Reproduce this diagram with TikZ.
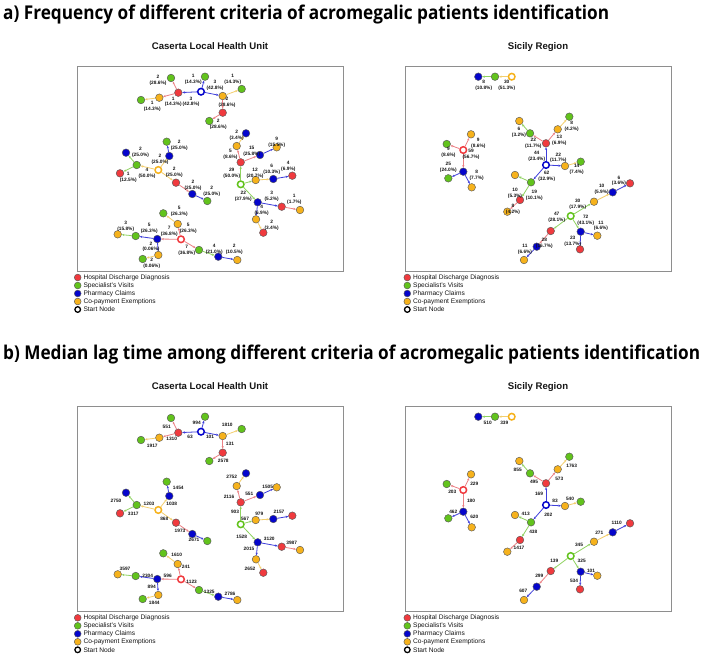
\documentclass[tikz,border=0pt]{standalone}
\usepackage{fontspec}
\setmainfont{Liberation Sans}
\newfontfamily\titlefont{Open Sans}
\usepackage{graphicx}
\usetikzlibrary{arrows.meta}

\definecolor{cR}{HTML}{F03A3E}
\definecolor{cG}{HTML}{62C31C}
\definecolor{cB}{HTML}{0505CC}
\definecolor{cO}{HTML}{F6B21C}
\definecolor{lR}{HTML}{EC8084}
\definecolor{lG}{HTML}{8FD260}
\definecolor{lB}{HTML}{3E3EDA}
\definecolor{lO}{HTML}{F3CE6C}
\definecolor{boxgray}{HTML}{8E8E8E}
\definecolor{ink}{HTML}{151515}

\tikzset{
  nd/.style={circle, minimum size=7.6pt, inner sep=0pt, draw=black!65, line width=0.45pt},
  nR/.style={nd, fill=cR}, nG/.style={nd, fill=cG},
  nB/.style={nd, fill=cB}, nO/.style={nd, fill=cO},
  st/.style={circle, minimum size=6.6pt, inner sep=0pt, fill=white, line width=1.5pt},
  sR/.style={st, draw=cR}, sG/.style={st, draw=cG},
  sB/.style={st, draw=cB}, sO/.style={st, draw=cO},
  ed/.style={line width=0.8pt, -{Stealth[length=2.6pt,width=2.2pt]}},
  eR/.style={ed, draw=lR}, eG/.style={ed, draw=lG},
  eB/.style={ed, draw=lB}, eO/.style={ed, draw=lO},
  lab/.style={font=\fontsize{4.8}{5.9}\selectfont\bfseries, align=center, inner sep=0pt, text=ink},
  leg/.style={font=\fontsize{6.6}{7}\selectfont, anchor=west, inner sep=0pt, text=ink},
  sub/.style={font=\fontsize{9.6}{10}\selectfont\bfseries, anchor=base, inner sep=0pt, text=ink},
  panel/.style={draw=boxgray, line width=0.9pt},
}

\newcounter{lbc}
\newcommand\lb[2]{\stepcounter{lbc}\node[lab] (lab\thelbc) at (#1) {#2};}

\newcommand\casertagraph{%
  % cluster 1
  \node[sB] (c1s) at (201,91.7) {};
  \node[nR] (c1r) at (178.3,92.7) {};
  \node[nG] (c1g1) at (171,78) {};
  \node[nO] (c1o1) at (159.3,97.7) {};
  \node[nG] (c1g2) at (141,100) {};
  \node[nG] (c1g3) at (205,76.7) {};
  \node[nO] (c1o2) at (222.7,96) {};
  \node[nG] (c1g4) at (241.7,89) {};
  \node[nR] (c1r2) at (222.7,112.7) {};
  \node[nG] (c1g5) at (209.3,121) {};
  \draw[eB] (c1s) -- (c1r);
  \draw[eR] (c1r) -- (c1g1);
  \draw[eR] (c1r) -- (c1o1);
  \draw[eO] (c1o1) -- (c1g2);
  \draw[eB] (c1s) -- (c1g3);
  \draw[eB] (c1s) -- (c1o2);
  \draw[eO] (c1o2) -- (c1g4);
  \draw[eR] (c1o2) -- (c1r2);
  \draw[eR] (c1r2) -- (c1g5);
  % cluster 2
  \node[sO] (c2s) at (158.3,170) {};
  \node[nG] (c2g1) at (136.7,165) {};
  \node[nR] (c2r1) at (120,173.3) {};
  \node[nB] (c2b1) at (126,152.7) {};
  \node[nB] (c2b2) at (169.3,156) {};
  \node[nG] (c2g2) at (166.7,141.7) {};
  \node[nR] (c2r2) at (176,182.7) {};
  \node[nB] (c2b3) at (192.3,194) {};
  \node[nG] (c2g3) at (207.3,201) {};
  \draw[eO] (c2s) -- (c2g1);
  \draw[eG] (c2g1) -- (c2r1);
  \draw[eG] (c2g1) -- (c2b1);
  \draw[eO] (c2s) -- (c2b2);
  \draw[eB] (c2b2) -- (c2g2);
  \draw[eO] (c2s) -- (c2r2);
  \draw[eR] (c2r2) -- (c2b3);
  \draw[eB] (c2b3) -- (c2g3);
  % cluster 3
  \node[sG] (c3s) at (240.7,184.3) {};
  \node[nR] (c3r1) at (240.7,162.3) {};
  \node[nO] (c3o1) at (236.7,146) {};
  \node[nB] (c3b1) at (246,133.3) {};
  \node[nB] (c3b2) at (260,155) {};
  \node[nO] (c3o2) at (276.7,147.3) {};
  \node[nO] (c3o3) at (255.7,180) {};
  \node[nB] (c3b3) at (273.3,179) {};
  \node[nR] (c3r2) at (292.3,175.7) {};
  \node[nB] (c3b4) at (257.7,202.3) {};
  \node[nR] (c3r3) at (281.7,206.7) {};
  \node[nO] (c3o4) at (300,210) {};
  \node[nO] (c3o5) at (256,219.3) {};
  \node[nR] (c3r4) at (263.3,232.7) {};
  \draw[eG] (c3s) -- (c3r1);
  \draw[eR] (c3r1) -- (c3o1);
  \draw[eO] (c3o1) -- (c3b1);
  \draw[eR] (c3r1) -- (c3b2);
  \draw[eB] (c3b2) -- (c3o2);
  \draw[eG] (c3s) -- (c3o3);
  \draw[eO] (c3o3) -- (c3b3);
  \draw[eB] (c3b3) -- (c3r2);
  \draw[eG] (c3s) -- (c3b4);
  \draw[eB] (c3b4) -- (c3r3);
  \draw[eR] (c3r3) -- (c3o4);
  \draw[eB] (c3b4) -- (c3o5);
  \draw[eO] (c3o5) -- (c3r4);
  % cluster 4
  \node[sR] (c4s) at (181,239.3) {};
  \node[nO] (c4o1) at (177.7,224) {};
  \node[nG] (c4g1) at (163.3,213.3) {};
  \node[nB] (c4b1) at (157.3,239) {};
  \node[nG] (c4g2) at (135.7,236) {};
  \node[nO] (c4o2) at (117.7,234.3) {};
  \node[nO] (c4o3) at (158.3,255) {};
  \node[nG] (c4g3) at (142.7,259) {};
  \node[nG] (c4g4) at (199,250) {};
  \node[nB] (c4b2) at (218.3,256.7) {};
  \node[nO] (c4o4) at (237.3,260) {};
  \draw[eR] (c4s) -- (c4o1);
  \draw[eO] (c4o1) -- (c4g1);
  \draw[eR] (c4s) -- (c4b1);
  \draw[eB] (c4b1) -- (c4g2);
  \draw[eG] (c4g2) -- (c4o2);
  \draw[eB] (c4b1) -- (c4o3);
  \draw[eO] (c4o3) -- (c4g3);
  \draw[eR] (c4s) -- (c4g4);
  \draw[eG] (c4g4) -- (c4b2);
  \draw[eB] (c4b2) -- (c4o4);
}

\newcommand\sicilygraph{%
  % top pair
  \node[sO] (s1s) at (511.7,76.7) {};
  \node[nG] (s1g) at (495,76.7) {};
  \node[nB] (s1b) at (478.3,76.7) {};
  \draw[eO] (s1s) -- (s1g);
  \draw[eG] (s1g) -- (s1b);
  % left cluster
  \node[sR] (s2s) at (463.3,150) {};
  \node[nO] (s2o) at (471,134.3) {};
  \node[nG] (s2g1) at (446.7,144) {};
  \node[nB] (s2b) at (463.3,171.7) {};
  \node[nG] (s2g2) at (448.3,178.3) {};
  \node[nO] (s2o2) at (471.7,187.3) {};
  \draw[eR] (s2s) -- (s2o);
  \draw[eR] (s2s) -- (s2g1);
  \draw[eR] (s2s) -- (s2b);
  \draw[eB] (s2b) -- (s2g2);
  \draw[eB] (s2b) -- (s2o2);
  % middle cluster
  \node[sB] (s3s) at (546,165) {};
  \node[nR] (s3r) at (546,143.3) {};
  \node[nG] (s3g1) at (530,133.3) {};
  \node[nO] (s3o1) at (519.3,121) {};
  \node[nO] (s3o2) at (557.7,129.3) {};
  \node[nG] (s3g2) at (569.3,116.7) {};
  \node[nO] (s3o3) at (565,166) {};
  \node[nG] (s3g3) at (580.7,161.7) {};
  \node[nG] (s3g4) at (531,182.3) {};
  \node[nO] (s3o4) at (515,175) {};
  \node[nR] (s3r2) at (520,200) {};
  \node[nO] (s3o5) at (507.3,211.7) {};
  \draw[eB] (s3s) -- (s3r);
  \draw[eR] (s3r) -- (s3g1);
  \draw[eG] (s3g1) -- (s3o1);
  \draw[eR] (s3r) -- (s3o2);
  \draw[eO] (s3o2) -- (s3g2);
  \draw[eB] (s3s) -- (s3o3);
  \draw[eO] (s3o3) -- (s3g3);
  \draw[eB] (s3s) -- (s3g4);
  \draw[eG] (s3g4) -- (s3o4);
  \draw[eG] (s3g4) -- (s3r2);
  \draw[eR] (s3r2) -- (s3o5);
  % bottom cluster
  \node[sG] (s4s) at (570.7,216) {};
  \node[nO] (s4o1) at (594,201.7) {};
  \node[nB] (s4b1) at (612.7,192.3) {};
  \node[nR] (s4r1) at (630,183.3) {};
  \node[nR] (s4r2) at (550.7,231) {};
  \node[nB] (s4b2) at (536.7,246.7) {};
  \node[nO] (s4o2) at (524,260) {};
  \node[nB] (s4b3) at (580.7,231.7) {};
  \node[nO] (s4o3) at (597.3,235.7) {};
  \node[nR] (s4r3) at (580,249.3) {};
  \draw[eG] (s4s) -- (s4o1);
  \draw[eO] (s4o1) -- (s4b1);
  \draw[eB] (s4b1) -- (s4r1);
  \draw[eG] (s4s) -- (s4r2);
  \draw[eR] (s4r2) -- (s4b2);
  \draw[eB] (s4b2) -- (s4o2);
  \draw[eG] (s4s) -- (s4b3);
  \draw[eB] (s4b3) -- (s4o3);
  \draw[eB] (s4b3) -- (s4r3);
}

\newcommand\legendat[3]{% prefix, x, y
  \node[nR, minimum size=6.8pt] (#1c1) at (#2,#3) {};
  \node[leg] (#1t1) at (#2+5.6,#3) {Hospital Discharge Diagnosis};
  \node[nG, minimum size=6.8pt] (#1c2) at (#2,#3+8) {};
  \node[leg] (#1t2) at (#2+5.6,#3+8) {Specialist's Visits};
  \node[nB, minimum size=6.8pt] (#1c3) at (#2,#3+16) {};
  \node[leg] (#1t3) at (#2+5.6,#3+16) {Pharmacy Claims};
  \node[nO, minimum size=6.8pt] (#1c4) at (#2,#3+24) {};
  \node[leg] (#1t4) at (#2+5.6,#3+24) {Co-payment Exemptions};
  \node[st, draw=black, minimum size=5.6pt, line width=1.3pt] (#1c5) at (#2,#3+32) {};
  \node[leg] (#1t5) at (#2+5.6,#3+32) {Start Node};
}

\newsavebox\tabox
\newsavebox\tbbox

\begin{document}
\sbox\tabox{\titlefont\bfseries\fontsize{19}{19}\selectfont a) Frequency of different criteria of acromegalic patients identification}%
\sbox\tbbox{\titlefont\bfseries\fontsize{19}{19}\selectfont b) Median lag time among different criteria of acromegalic patients identification}%
\begin{tikzpicture}[x=1pt, y=-1pt]
  \pgfmathsetmacro\tsc{697/\wd\tbbox}
  \fill[white] (0,0) rectangle (708,661);
  \useasboundingbox (0,0) rectangle (708,661);

  % titles
  \node[anchor=base west, inner sep=0pt, text=ink] (titlea) at (3,19.5) {\scalebox{\tsc}[1]{\usebox\tabox}};
  \node[anchor=base west, inner sep=0pt, text=ink] (titleb) at (3,359.5) {\scalebox{\tsc}[1]{\usebox\tbbox}};

  % subtitles
  \node[sub] (suba1) at (210,49.5) {Caserta Local Health Unit};
  \node[sub] (suba2) at (538,49.5) {Sicily Region};
  \node[sub] (subb1) at (210,389.5) {Caserta Local Health Unit};
  \node[sub] (subb2) at (538,389.5) {Sicily Region};

  % panel frames
  \draw[panel] (77,66) rectangle (343,271);
  \draw[panel] (405,66) rectangle (671,271);
  \draw[panel] (77,406) rectangle (343,611.5);
  \draw[panel] (405,406) rectangle (671,611.5);

  % graphs
  \begin{scope}[name prefix=a-]
    \casertagraph
    \sicilygraph
  \end{scope}
  \begin{scope}[shift={(0,340)}, name prefix=b-]
    \casertagraph
    \sicilygraph
  \end{scope}

  % legends
  \legendat{la1}{77.7}{277.5}
  \legendat{la2}{407.3}{277.5}
  \legendat{lb1}{77.7}{617.8}
  \legendat{lb2}{407.3}{617.8}

  % ---------- panel a labels: Caserta ----------
  \lb{158,80}{2\\(28.6\%)}
  \lb{193.3,79.2}{1\\(14.3\%)}
  \lb{232.7,79.7}{1\\(14.3\%)}
  \lb{215,85.7}{3\\(42.8\%)}
  \lb{191,101.8}{3\\(42.8\%)}
  \lb{173.3,101.8}{1\\(14.3\%)}
  \lb{152.3,106.7}{1\\(14.3\%)}
  \lb{227,102.5}{2\\(28.6\%)}
  \lb{218.3,124.5}{2\\(28.6\%)}
  \lb{140.5,152.3}{2\\(25.0\%)}
  \lb{179.3,145.7}{2\\(25.0\%)}
  \lb{160,159}{2\\(25.0\%)}
  \lb{147,173.3}{4\\(50.0\%)}
  \lb{128.3,177.3}{1\\(12.5\%)}
  \lb{174.3,172.3}{2\\(25.0\%)}
  \lb{193,185.5}{2\\(25.0\%)}
  \lb{211.7,191.3}{2\\(25.0\%)}
  \lb{236.7,135.7}{2\\(3.4\%)}
  \lb{230.5,154.5}{5\\(8.6\%)}
  \lb{251.7,151}{15\\(25.8\%)}
  \lb{276.7,142.7}{9\\(15.5\%)}
  \lb{231.7,173}{29\\(50.0\%)}
  \lb{255,173}{12\\(20.7\%)}
  \lb{271.7,169.3}{6\\(10.3\%)}
  \lb{288.3,166.3}{4\\(6.9\%)}
  \lb{243.3,196.3}{22\\(37.9\%)}
  \lb{271.7,196}{3\\(5.2\%)}
  \lb{294.3,199.7}{1\\(1.7\%)}
  \lb{261.7,210.3}{4\\(6.9\%)}
  \lb{271.7,225}{2\\(3.4\%)}
  \lb{179.3,211.3}{5\\(26.3\%)}
  \lb{188.3,228.7}{5\\(26.3\%)}
  \lb{169.3,231.7}{7\\(36.8\%)}
  \lb{149.3,228.7}{5\\(26.3\%)}
  \lb{125.7,226}{3\\(15.8\%)}
  \lb{151,246.8}{2\\(0.06\%)}
  \lb{151.7,263.3}{2\\(0.06\%)}
  \lb{186.7,250.3}{7\\(36.8\%)}
  \lb{214.3,249.5}{4\\(21.0\%)}
  \lb{234.3,249.5}{2\\(10.5\%)}

  % ---------- panel a labels: Sicily ----------
  \lb{483.7,85}{8\\(10.8\%)}
  \lb{506.7,85}{30\\(51.3\%)}
  \lb{478.3,143.3}{9\\(8.6\%)}
  \lb{448.5,152}{9\\(8.6\%)}
  \lb{471,154.5}{59\\(56.7\%)}
  \lb{448.3,167}{25\\(24.0\%)}
  \lb{476.7,175.7}{8\\(7.7\%)}
  \lb{519,132.5}{6\\(3.2\%)}
  \lb{533.3,143.3}{22\\(11.7\%)}
  \lb{571.7,126.3}{8\\(4.2\%)}
  \lb{559.3,140}{13\\(6.9\%)}
  \lb{536.7,156.3}{44\\(23.4\%)}
  \lb{558.3,157.8}{22\\(11.7\%)}
  \lb{576.7,169.7}{14\\(7.4\%)}
  \lb{546.7,176.3}{62\\(32.9\%)}
  \lb{515,193}{10\\(5.3\%)}
  \lb{534.3,195}{19\\(10.1\%)}
  \lb{513,209.7}{8\\(4.2\%)}
  \lb{619,180.8}{6\\(3.6\%)}
  \lb{601.7,189.7}{10\\(5.9\%)}
  \lb{577.7,204}{30\\(17.9\%)}
  \lb{556.7,217}{47\\(28.1\%)}
  \lb{585.7,220.3}{72\\(43.1\%)}
  \lb{601,225.8}{11\\(6.6\%)}
  \lb{544.3,243}{28\\(16.7\%)}
  \lb{572.7,241.7}{23\\(13.7\%)}
  \lb{525,249.2}{11\\(6.6\%)}

  % ---------- panel b labels: Caserta ----------
  \lb{166.7,426.7}{551}
  \lb{196.7,423.3}{994}
  \lb{227.3,425}{1810}
  \lb{190,437.3}{63}
  \lb{210,437.3}{101}
  \lb{171.7,439.3}{1310}
  \lb{152.3,446}{1917}
  \lb{230,444}{131}
  \lb{223.3,460.7}{2578}
  \lb{231.7,477.3}{2752}
  \lb{267.7,486.7}{1505}
  \lb{249.3,494}{551}
  \lb{229,496.7}{2116}
  \lb{178.3,487.7}{1454}
  \lb{116,500.7}{2750}
  \lb{149,504}{1203}
  \lb{171.7,504.3}{1038}
  \lb{133.3,514.3}{3317}
  \lb{164.3,519.3}{868}
  \lb{235,511.7}{903}
  \lb{245,519.3}{567}
  \lb{259.3,514.3}{979}
  \lb{279,511.7}{2157}
  \lb{180,530.7}{1973}
  \lb{194,540}{2671}
  \lb{241.7,537.3}{1528}
  \lb{269.3,539.3}{3120}
  \lb{291.7,543.3}{3987}
  \lb{249,549.3}{2015}
  \lb{250,569.3}{2652}
  \lb{176.7,555}{1610}
  \lb{186,567.3}{241}
  \lb{125,569.3}{3597}
  \lb{147.7,576}{2304}
  \lb{167.7,576}{596}
  \lb{191.7,581.7}{1123}
  \lb{151.7,587.3}{894}
  \lb{209.3,591.7}{1325}
  \lb{230,594}{2786}
  \lb{154.3,603.3}{1844}

  % ---------- panel b labels: Sicily ----------
  \lb{487.7,423.3}{510}
  \lb{504.3,423.3}{339}
  \lb{517.7,470}{855}
  \lb{571.7,465.7}{1763}
  \lb{534,482.3}{495}
  \lb{559.3,479}{573}
  \lb{474.3,484.3}{229}
  \lb{452.3,491.7}{203}
  \lb{539,494}{169}
  \lb{471,500.7}{180}
  \lb{555,500.7}{83}
  \lb{570,499.3}{540}
  \lb{548.3,515}{202}
  \lb{453.3,511.7}{462}
  \lb{474.3,517.3}{620}
  \lb{525.7,514}{413}
  \lb{616.7,522.7}{1110}
  \lb{533.3,532.3}{438}
  \lb{599.3,532.7}{271}
  \lb{519,548.3}{1417}
  \lb{579,545}{345}
  \lb{554.3,560.7}{139}
  \lb{581.7,560.7}{325}
  \lb{539.3,576}{299}
  \lb{591,570.7}{101}
  \lb{574,581}{534}
  \lb{523.3,591}{607}
\end{tikzpicture}
\end{document}
